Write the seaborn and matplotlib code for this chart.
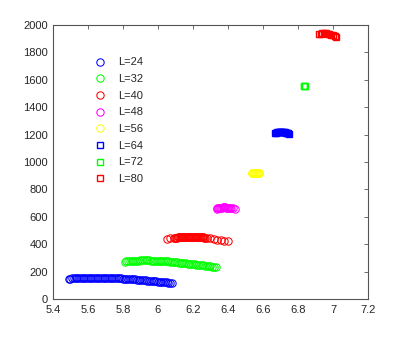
import pandas as pd
import matplotlib
matplotlib.use('Agg')
import matplotlib.pyplot as plt
import seaborn as sns

# valores
x24 = [5.49, 5.50, 5.51, 5.52, 5.53, 5.54, 5.55, 5.56, 5.57, 5.58, 5.59, 5.60, 5.61, 5.62, 5.63,
       5.64, 5.65, 5.66, 5.67, 5.68, 5.69, 5.70, 5.71, 5.72, 5.73, 5.74, 5.75, 5.76, 5.77, 5.78,
       5.79, 5.80, 5.81, 5.82, 5.83, 5.84, 5.85, 5.86, 5.87, 5.88, 5.89, 5.90, 5.91, 5.92, 5.93,
       5.94, 5.95, 5.96, 5.97, 5.98, 5.99, 6.00, 6.01, 6.02, 6.03, 6.04, 6.05, 6.06, 6.07, 6.08]
y24 = [148, 149, 150, 151, 152, 152, 153, 153, 154, 154, 155, 155, 155, 155, 156,
       156, 156, 156, 156, 156, 155, 155, 155, 154, 154, 153, 153, 152, 152, 151,
       150, 149, 149, 148, 147, 146, 145, 144, 143, 142, 141, 140, 139, 138, 137,
       135, 134, 133, 132, 130, 129, 127, 126, 125, 124, 122, 121, 119, 118, 115]

x32 = [5.81, 5.82, 5.83, 5.84, 5.85, 5.86, 5.87, 5.88, 5.89, 5.90, 5.91, 5.92, 5.93, 5.94,
       5.95, 5.96, 5.97, 5.98, 5.99, 6.00, 6.01, 6.02, 6.03, 6.04, 6.05, 6.06, 6.07, 6.08,
       6.09, 6.10, 6.11, 6.12, 6.13, 6.14, 6.15, 6.16, 6.17, 6.18, 6.19, 6.20, 6.21, 6.22,
       6.23, 6.24, 6.25, 6.26, 6.27, 6.28, 6.29, 6.30, 6.31, 6.32, 6.33]
y32 = [272, 274, 276, 277, 279, 279, 280, 281, 281, 282, 282, 282, 282, 282,
       282, 281, 281, 280, 280, 279, 279, 278, 277, 276, 275, 274, 273, 271,
       270, 269, 268, 266, 265, 263, 262, 260, 259, 257, 256, 254, 253, 251,
       250, 248, 247, 245, 243, 241, 240, 238, 236, 234, 232]

x40 = [6.05, 6.07, 6.09, 6.100, 6.105, 6.110, 6.115, 6.120, 6.125, 6.130, 6.135, 6.140,
       6.145, 6.150, 6.155, 6.160, 6.165, 6.170, 6.175, 6.180, 6.185, 6.190, 6.195, 6.200,
       6.205, 6.210, 6.215, 6.220, 6.225, 6.230, 6.235, 6.240, 6.245, 6.250, 6.255, 6.260,
       6.265, 6.270, 6.28, 6.30, 6.32, 6.34, 6.36, 6.38, 6.40]
y40 = [436, 442, 445, 447, 448, 448, 449, 450, 450, 451, 451, 452,
       452, 453, 453, 453, 454, 454, 454, 454, 454, 454, 454, 454,
       453, 453, 453, 453, 452, 452, 451, 451, 450, 450, 449, 449,
       448, 447, 446, 442, 438, 434, 430, 426, 420]

x48 = [6.335, 6.34, 6.345, 6.35, 6.355, 6.36, 6.365, 6.37, 6.375, 6.38, 6.385, 6.39,
       6.395, 6.40, 6.405, 6.41, 6.42, 6.43, 6.44]
y48 = [660, 663, 664, 665, 666, 667, 667, 668, 668, 668, 668, 667,
       667, 666, 665, 664, 663, 661, 660]

x56 = [6.535, 6.54, 6.545, 6.55, 6.555, 6.56, 6.565, 6.57, 6.575, 6.58]
y56 = [918, 920, 921, 922, 922, 922, 921, 920, 919, 918]

x64 = [6.67, 6.675, 6.68, 6.685, 6.69, 6.695, 6.70, 6.705, 6.71, 6.715, 6.72, 6.725,
       6.73, 6.735, 6.74, 6.745, 6.75]
y64 = [1213, 1215, 1216, 1217, 1217, 1218, 1218, 1218, 1218, 1217, 1217, 1216,
       1215, 1214, 1212, 1210, 1208]

x72 = [6.834, 6.836, 6.838]
y72 = [1557, 1555, 1553]

x80 = [6.92, 6.93, 6.94, 6.95, 6.96, 6.97, 6.98, 6.99, 7.00, 7.01, 7.02]
y80 = [1935, 1937, 1938, 1938, 1938, 1937, 1934, 1930, 1925, 1918, 1915]

series = [
    ('L=24', x24, y24, 'o', '#0000ff'),
    ('L=32', x32, y32, 'o', '#00ff00'),
    ('L=40', x40, y40, 'o', '#ff0000'),
    ('L=48', x48, y48, 'o', '#ff00ff'),
    ('L=56', x56, y56, 'o', '#ffff00'),
    ('L=64', x64, y64, 's', '#0000ff'),
    ('L=72', x72, y72, 's', '#00ff00'),
    ('L=80', x80, y80, 's', '#ff0000'),
]

sns.set_style('white')
plt.rcParams['font.family'] = ['Liberation Sans', 'DejaVu Sans']
plt.rcParams['font.size'] = 8

fig = plt.figure(figsize=(4.07, 3.37), dpi=100)
ax = fig.add_axes([53 / 407, 1 - 299 / 337, 315 / 407, 274 / 337])

for nome, xs, ys, marcador, cor in series:
    df = pd.DataFrame({'x': xs, 'y': ys})
    quadrado = marcador == 's'
    # só marcadores vazados, sem linha
    sns.lineplot(data=df, x='x', y='y', ax=ax, sort=False, estimator=None,
                 linestyle='', marker=marcador, markersize=4.4 if quadrado else 5.3,
                 color=cor, markerfacecolor='none', markeredgecolor=cor,
                 markeredgewidth=1.0 if quadrado else 0.75, label=nome)

ax.set_xlim(5.4, 7.2)
ax.set_ylim(0, 2000)
ax.set_xticks([5.4, 5.6, 5.8, 6.0, 6.2, 6.4, 6.6, 6.8, 7.0, 7.2])
ax.set_xticklabels(['5.4', '5.6', '5.8', '6', '6.2', '6.4', '6.6', '6.8', '7', '7.2'])
ax.set_yticks(range(0, 2001, 200))
ax.set_xlabel('')
ax.set_ylabel('')

for lado in ax.spines.values():
    lado.set_color('#555555')
    lado.set_linewidth(0.8)
ax.tick_params(direction='in', length=3, width=0.6, color='#555555',
               top=True, right=True, labelsize=8)
ax.tick_params(axis='x', pad=4)

ax.legend(loc='upper left', bbox_to_anchor=(0.116, 0.898), frameon=False,
          labelspacing=0.6, handletextpad=1.2, handlelength=1.0, numpoints=1,
          fontsize=8, borderaxespad=0)

fig.savefig('out.png', dpi=100)
